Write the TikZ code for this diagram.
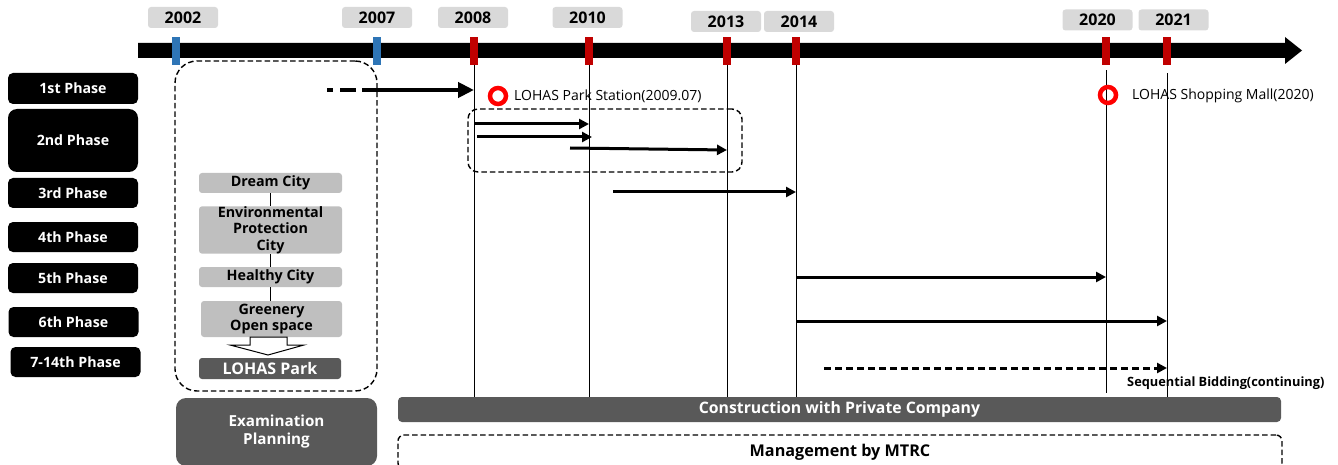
\documentclass[tikz,border=0pt]{standalone}
\usepackage{fontspec}
\setmainfont{Open Sans}
\usetikzlibrary{arrows.meta}
\definecolor{dgray}{HTML}{595959}
\definecolor{cgray}{HTML}{BFBFBF}
\definecolor{ygray}{HTML}{D9D9D9}
\definecolor{tblue}{HTML}{2E75B6}
\definecolor{tred}{HTML}{C00000}
\definecolor{ringred}{HTML}{FF0000}
\begin{document}
\begin{tikzpicture}[x=1pt,y=-1pt,
  phase/.style={fill=black, rounded corners=5pt, text=white, inner sep=0pt,
    minimum width=130pt, minimum height=30pt, font=\fontsize{14.2}{16}\selectfont\bfseries},
  yr/.style={fill=ygray, rounded corners=3pt, inner sep=0pt, minimum width=70pt,
    minimum height=21pt, font=\fontsize{16}{18}\selectfont\bfseries},
  tickb/.style={fill=tblue, inner sep=0pt, minimum width=8pt, minimum height=28pt},
  tickr/.style={fill=tred, inner sep=0pt, minimum width=8pt, minimum height=28pt},
  vline/.style={line width=0.8pt},
  concept/.style={fill=cgray, rounded corners=3pt, inner sep=0pt, align=center,
    minimum width=143pt, font=\fontsize{14.3}{16.5}\selectfont\bfseries},
  darkbox/.style={fill=dgray, text=white, inner sep=0pt, align=center,
    font=\fontsize{15.2}{18}\selectfont\bfseries},
  dbox/.style={draw=black, line width=1.4pt, dash pattern=on 5.5pt off 3pt},
  arr/.style={line width=3pt, -{Triangle[length=10pt,width=10pt]}},
  bigarr/.style={line width=4pt, -{Triangle[length=16pt,width=15pt]}},
  ring/.style={draw=ringred, line width=4.5pt, circle, inner sep=0pt, minimum size=16pt},
  lbl/.style={inner sep=0pt, anchor=west, font=\fontsize{14}{16}\selectfont}
]
\useasboundingbox (0,0) rectangle (1338,465);

% timeline bar
\fill (138,43) -- (1285,43) -- (1285,37) -- (1302,50.5) -- (1285,64) -- (1285,58) -- (138,58) -- cycle;

% ticks
\node[tickb] (t2002) at (176,51) {};
\node[tickb] (t2007) at (377,51) {};
\node[tickr] (t2008) at (474,51) {};
\node[tickr] (t2010) at (589,51) {};
\node[tickr] (t2013) at (727,51) {};
\node[tickr] (t2014) at (796,51) {};
\node[tickr] (t2020) at (1106,51) {};
\node[tickr] (t2021) at (1167,51) {};

% year labels
\node[yr] (y2002) at (183,17.5) {2002};
\node[yr] (y2007) at (377,17.5) {2007};
\node[yr] (y2008) at (473,17.5) {2008};
\node[yr] (y2010) at (587.5,17.5) {2010};
\node[yr] (y2013) at (726,21.5) {2013};
\node[yr] (y2014) at (799,21.5) {2014};
\node[yr] (y2020) at (1097.5,20) {2020};
\node[yr] (y2021) at (1173.5,20) {2021};

% phase labels
\node[phase, minimum height=31pt] (p1) at (73,88.5) {1st Phase};
\node[phase, minimum height=63pt, rounded corners=9pt] (p2) at (73,140.5) {2nd Phase};
\node[phase] (p3) at (73,193) {3rd Phase};
\node[phase] (p4) at (73,237) {4th Phase};
\node[phase] (p5) at (73,278) {5th Phase};
\node[phase] (p6) at (73.5,322) {6th Phase};
\node[phase] (p7) at (75.5,362) {7-14th Phase};

% bottom bars
\node[darkbox, rounded corners=4pt, minimum width=883pt, minimum height=25pt,
  font=\fontsize{15.8}{18}\selectfont\bfseries] (cons) at (839.5,409.5) {Construction with Private Company};
\node[dbox, rounded corners=6pt, minimum width=884pt, minimum height=34pt, inner sep=0pt,
  font=\fontsize{16.2}{18}\selectfont\bfseries] (mg) at (840,452) {Management by MTRC};
\node[darkbox, rounded corners=10pt, minimum width=201pt, minimum height=68pt] (exam) at (276.5,432) {Examination\\Planning};

% vertical year lines
\draw[vline] (t2008.south) -- (t2008.south |- cons.north);
\draw[vline] (t2010.south) -- (t2010.south |- cons.north);
\draw[vline] (t2013.south) -- (t2013.south |- cons.north);
\draw[vline] (t2014.south) -- (t2014.south |- cons.north);
\draw[vline] ([yshift=-5pt]t2020.south) -- ([yshift=4pt]t2020.south |- cons.north);
\draw[vline] ([yshift=-8pt]t2021.south) -- (t2021.south |- cons.north);

% planning dashed box
\node[dbox, rounded corners=22pt, minimum width=202pt, minimum height=330pt] (plan) at (276,226) {};

% concept boxes
\node[concept, minimum height=20pt] (dc) at (270.5,183) {Dream City};
\node[concept, minimum height=46pt] (env) at (270.5,230) {Environmental\\Protection\\City};
\node[concept, minimum height=20pt] (hc) at (270.5,277) {Healthy City};
\node[concept, minimum width=141pt, minimum height=36pt, font=\fontsize{14.3}{15.5}\selectfont\bfseries] (gr) at (271.5,319) {Greenery\\Open space};
\node[darkbox, rounded corners=3pt, minimum width=142pt, minimum height=21pt,
  font=\fontsize{16}{18}\selectfont\bfseries] (lp) at (270,368.5) {LOHAS Park};
\draw[vline] (dc.south -| 270,0) -- (env.north -| 270,0);
\draw[vline] (env.south -| 270,0) -- (hc.north -| 270,0);
\draw[vline] (hc.south -| 270,0) -- (gr.north -| 270,0);
\draw[fill=white, line width=1pt] (250,337) -- (287,337) -- (287,345) -- (304,345) -- (268,355)
  -- (230,345) -- (250,345) -- cycle;

% 2nd phase dashed box
\node[dbox, rounded corners=10pt, minimum width=274pt, minimum height=63pt] (p2box) at (605,140.5) {};

% arrows
\coordinate (s1) at (327,90);
\draw[bigarr, dash pattern=on 6pt off 7pt on 16pt off 6pt on 400pt off 0pt] (s1) -- (s1 -| t2008);
\coordinate (s2a) at (474,124);
\draw[arr] (s2a) -- (s2a -| t2010);
\coordinate (s2b) at (477,137);
\draw[arr] (s2b) -- ([xshift=3pt]s2b -| t2010);
\coordinate (s2c) at (570,148);
\draw[arr] (s2c) -- ([yshift=-2pt]s2c -| t2013);
\coordinate (s3) at (613,192);
\draw[arr] (s3) -- (s3 -| t2014);
\coordinate (s5) at (796,277);
\draw[arr] (s5) -- (s5 -| t2020);
\coordinate (s6) at (796,321);
\draw[arr] (s6) -- (s6 -| t2021);
\coordinate (s7) at (824,368);
\draw[arr, dash pattern=on 7pt off 4pt] (s7) -- (s7 -| t2021);

% markers and labels
\node[ring] (c1) at (498,96) {};
\node[lbl] (l1) at (514,96) {LOHAS Park Station(2009.07)};
\node[ring] (c2) at (1108,95) {};
\node[lbl] (l2) at (1132,96) {LOHAS Shopping Mall(2020)};
\node[lbl, font=\fontsize{12.8}{14}\selectfont\bfseries] (l3) at (1127,383) {Sequential Bidding(continuing)};
\end{tikzpicture}
\end{document}
